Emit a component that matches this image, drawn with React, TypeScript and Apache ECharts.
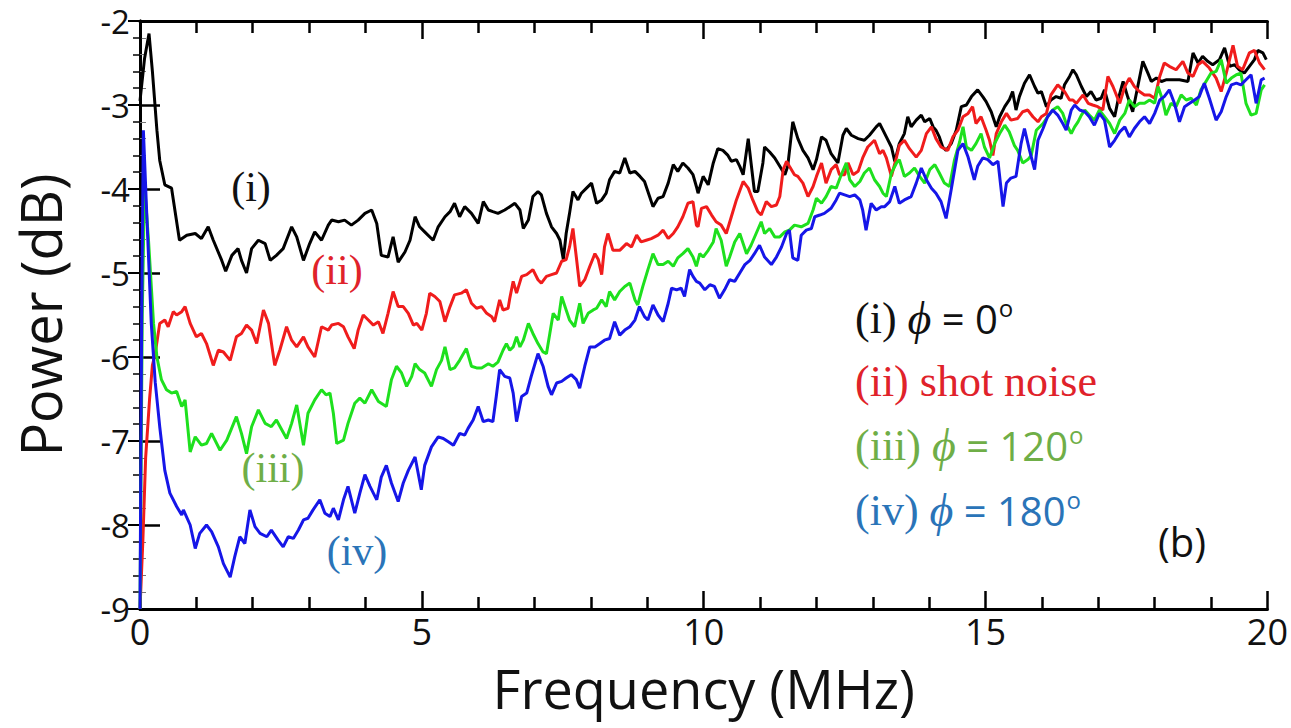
import React, { useEffect, useRef } from "react";
import * as echarts from "echarts";

// Frequency (MHz), Power (dB) pairs
const blackData: [number, number][] = [
  [0, -2.95], [0.08, -2.45], [0.16, -2.15], [0.22, -2.6], [0.3, -3.3], [0.35, -3.66], [0.44, -3.95], [0.56, -3.99],
  [0.7, -4.61], [0.83, -4.55], [0.98, -4.53], [1.09, -4.59], [1.21, -4.45], [1.3, -4.61], [1.45, -4.85], [1.52, -4.98],
  [1.63, -4.79], [1.74, -4.71], [1.8, -4.85], [1.89, -5.0], [1.98, -4.71], [2.1, -4.61], [2.22, -4.65], [2.31, -4.85],
  [2.42, -4.79], [2.54, -4.71], [2.69, -4.45], [2.78, -4.57], [2.9, -4.85], [3.01, -4.65], [3.1, -4.51], [3.22, -4.61],
  [3.34, -4.43], [3.4, -4.37], [3.52, -4.39], [3.63, -4.37], [3.75, -4.43], [3.87, -4.37], [3.99, -4.29], [4.11, -4.25],
  [4.2, -4.41], [4.28, -4.79], [4.4, -4.81], [4.49, -4.57], [4.58, -4.87], [4.7, -4.75], [4.79, -4.61], [4.88, -4.33],
  [4.96, -4.45], [5.05, -4.51], [5.2, -4.61], [5.29, -4.45], [5.41, -4.33], [5.5, -4.27], [5.58, -4.17], [5.67, -4.33],
  [5.76, -4.21], [5.88, -4.29], [6.0, -4.41], [6.09, -4.15], [6.18, -4.25], [6.26, -4.27], [6.35, -4.29], [6.47, -4.25],
  [6.56, -4.21], [6.65, -4.17], [6.74, -4.25], [6.8, -4.47], [6.89, -4.37], [6.97, -4.09], [7.06, -4.03], [7.12, -4.07],
  [7.21, -4.29], [7.3, -4.45], [7.39, -4.53], [7.45, -4.61], [7.51, -4.84], [7.56, -4.53], [7.62, -4.29], [7.68, -4.03],
  [7.77, -4.13], [7.83, -4.05], [7.92, -3.99], [8.01, -3.93], [8.1, -4.17], [8.19, -4.13], [8.27, -4.05], [8.33, -3.89],
  [8.42, -3.79], [8.51, -3.81], [8.6, -3.63], [8.69, -3.81], [8.78, -3.79], [8.87, -3.85], [8.95, -3.91], [9.04, -4.09],
  [9.1, -4.21], [9.19, -4.11], [9.28, -4.09], [9.37, -3.93], [9.46, -3.71], [9.54, -3.79], [9.63, -3.69], [9.72, -3.75],
  [9.81, -3.83], [9.87, -3.97], [9.9, -4.05], [9.99, -3.85], [10.08, -3.95], [10.17, -3.69], [10.25, -3.52], [10.34, -3.54],
  [10.43, -3.6], [10.49, -3.67], [10.58, -3.65], [10.64, -3.73], [10.7, -3.83], [10.79, -3.4], [10.84, -3.69], [10.9, -4.03],
  [10.96, -4.03], [11.05, -3.69], [11.08, -3.5], [11.17, -3.56], [11.26, -3.63], [11.35, -3.73], [11.44, -3.83], [11.49, -3.73],
  [11.58, -3.2], [11.67, -3.4], [11.76, -3.54], [11.85, -3.63], [11.94, -3.77], [12.0, -3.65], [12.09, -3.38], [12.17, -3.42],
  [12.26, -3.58], [12.38, -3.69], [12.47, -3.36], [12.53, -3.28], [12.62, -3.36], [12.74, -3.4], [12.85, -3.42], [12.94, -3.36],
  [13.06, -3.26], [13.12, -3.22], [13.18, -3.3], [13.24, -3.38], [13.33, -3.5], [13.39, -3.67], [13.47, -3.46], [13.56, -3.34],
  [13.62, -3.14], [13.68, -3.26], [13.77, -3.18], [13.86, -3.12], [13.92, -3.2], [14.01, -3.16], [14.07, -3.26], [14.12, -3.3],
  [14.18, -3.38], [14.24, -3.5], [14.3, -3.54], [14.39, -3.46], [14.48, -3.3], [14.57, -3.02], [14.66, -3.0], [14.75, -2.9],
  [14.86, -2.82], [14.95, -2.9], [15.01, -2.96], [15.1, -3.08], [15.19, -3.26], [15.25, -3.14], [15.34, -3.02], [15.42, -2.94],
  [15.48, -2.84], [15.54, -3.06], [15.6, -2.9], [15.69, -2.74], [15.78, -2.64], [15.87, -2.78], [15.93, -2.86], [15.99, -2.84],
  [16.08, -3.02], [16.16, -2.94], [16.25, -2.9], [16.34, -2.92], [16.4, -2.76], [16.49, -2.66], [16.55, -2.58], [16.61, -2.64],
  [16.7, -2.78], [16.79, -2.9], [16.87, -2.84], [16.96, -2.94], [17.05, -2.92], [17.11, -2.82], [17.2, -3.04], [17.29, -3.14],
  [17.35, -2.94], [17.44, -2.72], [17.52, -2.9], [17.61, -3.08], [17.7, -2.78], [17.79, -2.48], [17.88, -2.62], [17.94, -2.72],
  [18.03, -2.68], [18.12, -2.72], [18.2, -2.7], [18.32, -2.7], [18.44, -2.7], [18.59, -2.72], [18.68, -2.38], [18.77, -2.5],
  [18.85, -2.42], [18.94, -2.48], [19.03, -2.52], [19.15, -2.46], [19.24, -2.32], [19.33, -2.54], [19.42, -2.52], [19.5, -2.58],
  [19.59, -2.62], [19.68, -2.54], [19.77, -2.46], [19.83, -2.35], [19.92, -2.38], [19.98, -2.46],
];

const redData: [number, number][] = [
  [0, -9.0], [0.05, -8.2], [0.1, -7.2], [0.17, -6.5], [0.22, -6.1], [0.27, -5.96], [0.35, -5.6], [0.44, -5.56],
  [0.5, -5.64], [0.59, -5.46], [0.65, -5.5], [0.74, -5.46], [0.8, -5.4], [0.89, -5.6], [1.0, -5.76], [1.09, -5.72],
  [1.18, -5.84], [1.3, -6.1], [1.39, -5.92], [1.48, -5.94], [1.6, -6.04], [1.71, -5.76], [1.8, -5.72], [1.89, -5.62],
  [1.98, -5.68], [2.07, -5.84], [2.19, -5.44], [2.28, -5.6], [2.39, -6.1], [2.48, -5.92], [2.6, -5.64], [2.69, -5.8],
  [2.78, -5.88], [2.9, -5.76], [2.98, -5.88], [3.1, -6.0], [3.22, -5.64], [3.34, -5.68], [3.4, -5.62], [3.52, -5.6],
  [3.61, -5.64], [3.69, -5.76], [3.8, -5.9], [3.87, -5.68], [3.96, -5.5], [4.05, -5.56], [4.14, -5.62], [4.23, -5.58],
  [4.31, -5.72], [4.4, -5.48], [4.49, -5.22], [4.58, -5.4], [4.67, -5.4], [4.76, -5.48], [4.85, -5.62], [4.91, -5.6],
  [5.0, -5.68], [5.08, -5.48], [5.14, -5.24], [5.23, -5.28], [5.32, -5.34], [5.41, -5.58], [5.5, -5.4], [5.58, -5.26],
  [5.7, -5.24], [5.79, -5.2], [5.88, -5.36], [5.97, -5.42], [6.06, -5.4], [6.15, -5.48], [6.24, -5.52], [6.29, -5.58],
  [6.38, -5.32], [6.44, -5.44], [6.53, -5.42], [6.56, -5.3], [6.62, -5.1], [6.68, -5.24], [6.77, -5.04], [6.86, -5.02],
  [6.97, -4.96], [7.06, -5.08], [7.12, -5.12], [7.21, -5.04], [7.3, -5.02], [7.39, -5.0], [7.48, -4.86], [7.56, -4.84],
  [7.62, -4.69], [7.68, -4.47], [7.74, -4.81], [7.8, -5.16], [7.89, -5.08], [7.98, -4.92], [8.07, -4.77], [8.13, -4.84],
  [8.19, -5.02], [8.24, -4.69], [8.3, -4.53], [8.39, -4.73], [8.51, -4.73], [8.63, -4.65], [8.72, -4.69], [8.81, -4.55],
  [8.89, -4.63], [8.98, -4.61], [9.07, -4.59], [9.19, -4.55], [9.28, -4.49], [9.37, -4.59], [9.46, -4.53], [9.54, -4.45],
  [9.63, -4.33], [9.72, -4.17], [9.81, -4.15], [9.87, -4.43], [9.9, -4.45], [9.96, -4.23], [10.05, -4.21], [10.14, -4.31],
  [10.22, -4.39], [10.31, -4.43], [10.4, -4.53], [10.49, -4.33], [10.58, -4.13], [10.7, -3.91], [10.79, -3.99], [10.87, -4.13],
  [10.96, -4.27], [11.02, -4.31], [11.11, -4.15], [11.2, -4.21], [11.29, -4.19], [11.35, -4.09], [11.41, -3.77], [11.47, -3.67],
  [11.52, -3.73], [11.61, -3.83], [11.67, -3.85], [11.76, -3.93], [11.85, -4.09], [11.94, -3.97], [12.0, -3.85], [12.09, -3.69],
  [12.17, -3.93], [12.26, -3.77], [12.35, -3.71], [12.41, -3.83], [12.5, -3.83], [12.56, -3.69], [12.65, -3.83], [12.74, -3.79],
  [12.82, -3.63], [12.91, -3.5], [13.03, -3.42], [13.12, -3.58], [13.18, -3.54], [13.24, -3.63], [13.33, -3.85], [13.42, -3.62],
  [13.47, -3.48], [13.56, -3.42], [13.65, -3.52], [13.77, -3.62], [13.86, -3.54], [13.95, -3.34], [14.04, -3.26], [14.12, -3.4],
  [14.21, -3.5], [14.33, -3.54], [14.42, -3.38], [14.51, -3.3], [14.6, -3.14], [14.69, -3.1], [14.77, -3.02], [14.83, -3.22],
  [14.92, -3.14], [15.01, -3.3], [15.07, -3.42], [15.13, -3.6], [15.19, -3.34], [15.28, -3.2], [15.37, -3.1], [15.45, -3.18],
  [15.57, -3.16], [15.66, -3.08], [15.75, -3.06], [15.84, -3.14], [15.93, -3.2], [15.99, -3.14], [16.08, -3.1], [16.16, -2.88],
  [16.28, -2.76], [16.4, -2.84], [16.49, -2.94], [16.55, -2.94], [16.61, -2.98], [16.73, -2.88], [16.82, -2.98], [16.9, -3.0],
  [16.99, -3.02], [17.08, -3.06], [17.17, -2.66], [17.26, -2.78], [17.38, -2.98], [17.47, -2.78], [17.55, -2.68], [17.64, -2.78],
  [17.73, -2.84], [17.82, -2.88], [17.91, -2.88], [18.0, -2.92], [18.09, -2.66], [18.17, -2.5], [18.26, -2.54], [18.38, -2.58],
  [18.5, -2.48], [18.59, -2.62], [18.68, -2.66], [18.77, -2.52], [18.85, -2.48], [18.97, -2.56], [19.09, -2.68], [19.18, -2.84],
  [19.27, -2.62], [19.39, -2.29], [19.47, -2.54], [19.56, -2.58], [19.68, -2.38], [19.77, -2.35], [19.86, -2.5], [19.95, -2.58],
];

const greenData: [number, number][] = [
  [0, -9.0], [0.04, -5.5], [0.08, -3.95], [0.15, -4.6], [0.24, -5.6], [0.3, -6.0], [0.38, -6.27], [0.47, -6.39],
  [0.56, -6.43], [0.65, -6.41], [0.74, -6.59], [0.8, -6.51], [0.89, -7.13], [0.98, -6.95], [1.09, -7.05], [1.18, -7.03],
  [1.27, -6.91], [1.42, -7.11], [1.54, -6.99], [1.71, -6.71], [1.8, -6.91], [1.89, -7.15], [1.98, -6.83], [2.1, -6.63],
  [2.22, -6.79], [2.33, -6.83], [2.42, -6.75], [2.6, -6.97], [2.69, -6.79], [2.78, -6.57], [2.9, -7.05], [2.98, -6.67],
  [3.1, -6.51], [3.22, -6.39], [3.3, -6.45], [3.37, -6.43], [3.43, -6.67], [3.49, -7.03], [3.61, -6.99], [3.69, -6.79],
  [3.81, -6.55], [3.9, -6.49], [3.99, -6.55], [4.11, -6.39], [4.23, -6.53], [4.37, -6.59], [4.46, -6.27], [4.55, -6.11],
  [4.64, -6.19], [4.73, -6.35], [4.82, -6.23], [4.88, -6.08], [4.96, -6.15], [5.05, -6.19], [5.17, -6.35], [5.26, -6.15],
  [5.35, -6.04], [5.41, -5.88], [5.5, -6.15], [5.58, -6.13], [5.67, -6.04], [5.79, -5.9], [5.88, -6.11], [5.97, -6.13],
  [6.06, -6.13], [6.18, -6.08], [6.26, -6.11], [6.35, -6.06], [6.44, -5.92], [6.5, -5.84], [6.56, -5.92], [6.62, -5.88],
  [6.68, -5.76], [6.74, -5.88], [6.8, -5.8], [6.89, -5.6], [6.97, -5.72], [7.06, -5.84], [7.15, -5.94], [7.21, -5.96],
  [7.27, -5.72], [7.33, -5.48], [7.42, -5.56], [7.48, -5.28], [7.56, -5.44], [7.62, -5.56], [7.71, -5.64], [7.8, -5.36],
  [7.86, -5.6], [7.95, -5.48], [8.04, -5.44], [8.1, -5.42], [8.19, -5.32], [8.27, -5.4], [8.33, -5.22], [8.42, -5.32],
  [8.51, -5.22], [8.6, -5.16], [8.69, -5.12], [8.78, -5.32], [8.83, -5.38], [8.92, -5.16], [9.01, -4.96], [9.1, -4.77],
  [9.19, -4.9], [9.28, -4.9], [9.37, -4.86], [9.46, -4.92], [9.54, -4.82], [9.63, -4.77], [9.72, -4.71], [9.81, -4.81],
  [9.87, -4.92], [9.93, -4.77], [9.99, -4.81], [10.08, -4.73], [10.17, -4.63], [10.22, -4.47], [10.31, -4.61], [10.4, -4.92],
  [10.46, -4.81], [10.55, -4.63], [10.64, -4.53], [10.76, -4.77], [10.84, -4.67], [10.93, -4.53], [11.02, -4.39], [11.08, -4.53],
  [11.17, -4.47], [11.26, -4.57], [11.35, -4.57], [11.44, -4.51], [11.52, -4.49], [11.61, -4.43], [11.73, -4.45], [11.85, -4.41],
  [11.94, -4.25], [12.0, -4.11], [12.09, -4.17], [12.17, -4.09], [12.26, -3.97], [12.35, -3.99], [12.44, -3.83], [12.53, -3.69],
  [12.59, -3.89], [12.68, -3.97], [12.77, -3.91], [12.85, -3.81], [12.94, -3.75], [13.03, -3.89], [13.12, -3.97], [13.18, -4.05],
  [13.24, -4.09], [13.33, -3.81], [13.42, -3.69], [13.47, -3.65], [13.56, -3.85], [13.65, -3.81], [13.74, -3.75], [13.83, -3.85],
  [13.92, -3.93], [14.01, -3.77], [14.1, -3.71], [14.18, -3.81], [14.27, -3.93], [14.36, -3.97], [14.45, -3.65], [14.54, -3.44],
  [14.6, -3.26], [14.66, -3.5], [14.75, -3.54], [14.83, -3.46], [14.92, -3.34], [14.98, -3.5], [15.07, -3.63], [15.16, -3.46],
  [15.25, -3.34], [15.34, -3.24], [15.42, -3.32], [15.51, -3.48], [15.57, -3.54], [15.66, -3.69], [15.75, -3.65], [15.81, -3.6],
  [15.9, -3.3], [16.02, -3.22], [16.1, -3.14], [16.19, -3.06], [16.28, -3.02], [16.37, -3.1], [16.43, -3.22], [16.52, -3.34],
  [16.58, -3.26], [16.64, -3.2], [16.7, -3.12], [16.76, -3.06], [16.84, -3.12], [16.93, -3.18], [17.02, -3.06], [17.11, -3.14],
  [17.2, -3.22], [17.29, -3.34], [17.38, -3.18], [17.47, -3.1], [17.55, -2.94], [17.64, -3.02], [17.73, -2.98], [17.82, -2.98],
  [17.91, -2.94], [18.0, -2.98], [18.06, -2.78], [18.14, -2.94], [18.2, -3.12], [18.29, -2.98], [18.38, -3.02], [18.47, -2.88],
  [18.56, -2.94], [18.65, -2.92], [18.74, -3.0], [18.82, -2.82], [18.91, -2.72], [19.0, -2.62], [19.09, -2.6], [19.18, -2.46],
  [19.27, -2.74], [19.36, -2.68], [19.45, -2.64], [19.53, -2.62], [19.62, -2.98], [19.71, -3.12], [19.8, -3.1], [19.89, -2.82],
  [19.95, -2.76],
];

const blueData: [number, number][] = [
  [0, -9.0], [0.03, -5.5], [0.06, -3.3], [0.12, -4.3], [0.2, -5.6], [0.27, -6.3], [0.35, -6.83], [0.44, -7.35],
  [0.53, -7.62], [0.65, -7.78], [0.74, -7.88], [0.77, -7.82], [0.89, -8.0], [0.98, -8.28], [1.06, -8.1], [1.18, -8.0],
  [1.27, -8.08], [1.39, -8.26], [1.48, -8.46], [1.6, -8.62], [1.68, -8.38], [1.77, -8.14], [1.86, -8.22], [1.95, -7.82],
  [2.04, -8.02], [2.13, -8.1], [2.25, -8.14], [2.33, -8.06], [2.45, -8.18], [2.54, -8.26], [2.63, -8.14], [2.72, -8.16],
  [2.81, -8.06], [2.9, -7.94], [2.98, -7.92], [3.07, -7.82], [3.19, -7.7], [3.28, -7.86], [3.37, -7.9], [3.43, -7.8],
  [3.52, -7.94], [3.61, -7.7], [3.69, -7.54], [3.81, -7.86], [3.9, -7.62], [3.99, -7.4], [4.08, -7.54], [4.2, -7.7],
  [4.28, -7.43], [4.37, -7.29], [4.46, -7.5], [4.58, -7.72], [4.67, -7.5], [4.76, -7.35], [4.88, -7.19], [4.99, -7.58],
  [5.05, -7.29], [5.17, -7.07], [5.29, -6.95], [5.38, -6.97], [5.47, -7.01], [5.56, -7.05], [5.67, -6.91], [5.76, -6.93],
  [5.82, -6.85], [5.91, -6.75], [6.0, -6.59], [6.09, -6.77], [6.18, -6.75], [6.26, -6.77], [6.32, -6.47], [6.38, -6.15],
  [6.47, -6.23], [6.56, -6.25], [6.62, -6.43], [6.68, -6.77], [6.77, -6.47], [6.86, -6.43], [6.94, -6.23], [7.06, -5.96],
  [7.15, -6.11], [7.24, -6.35], [7.3, -6.45], [7.39, -6.31], [7.48, -6.29], [7.56, -6.25], [7.65, -6.21], [7.74, -6.27],
  [7.8, -6.37], [7.89, -6.11], [7.98, -5.88], [8.07, -5.88], [8.16, -5.84], [8.24, -5.8], [8.33, -5.78], [8.42, -5.58],
  [8.51, -5.74], [8.6, -5.68], [8.69, -5.64], [8.78, -5.56], [8.86, -5.4], [8.95, -5.52], [9.01, -5.56], [9.1, -5.38],
  [9.19, -5.5], [9.28, -5.58], [9.37, -5.36], [9.43, -5.18], [9.52, -5.2], [9.6, -5.18], [9.66, -5.28], [9.75, -4.96],
  [9.81, -5.04], [9.87, -5.1], [9.93, -5.12], [10.02, -5.2], [10.11, -5.14], [10.19, -5.16], [10.28, -5.3], [10.37, -5.2],
  [10.46, -5.08], [10.55, -5.1], [10.64, -5.0], [10.73, -4.9], [10.82, -4.85], [10.9, -4.77], [10.99, -4.67], [11.08, -4.81],
  [11.2, -4.9], [11.29, -4.81], [11.38, -4.69], [11.47, -4.53], [11.52, -4.49], [11.58, -4.82], [11.67, -4.85], [11.73, -4.55],
  [11.82, -4.49], [11.91, -4.47], [11.97, -4.33], [12.06, -4.31], [12.14, -4.29], [12.26, -4.23], [12.35, -4.13], [12.41, -4.05],
  [12.5, -4.07], [12.59, -4.09], [12.68, -4.07], [12.77, -4.13], [12.82, -4.25], [12.88, -4.49], [12.97, -4.17], [13.06, -4.25],
  [13.15, -4.21], [13.21, -4.21], [13.3, -4.15], [13.39, -3.97], [13.47, -4.17], [13.56, -4.13], [13.68, -4.09], [13.77, -3.93],
  [13.86, -3.75], [13.95, -3.89], [14.04, -3.99], [14.12, -4.05], [14.21, -4.15], [14.3, -4.35], [14.39, -4.01], [14.51, -3.54],
  [14.6, -3.46], [14.69, -3.62], [14.8, -3.89], [14.86, -3.73], [14.95, -3.63], [15.04, -3.65], [15.13, -3.71], [15.22, -3.67],
  [15.31, -4.21], [15.37, -3.93], [15.45, -3.87], [15.54, -3.85], [15.63, -3.46], [15.69, -3.28], [15.78, -3.54], [15.87, -3.77],
  [15.93, -3.42], [16.02, -3.28], [16.1, -3.14], [16.19, -3.06], [16.28, -3.12], [16.37, -3.22], [16.43, -3.3], [16.52, -3.06],
  [16.58, -3.0], [16.67, -3.06], [16.76, -3.08], [16.84, -3.14], [16.93, -3.24], [17.02, -3.1], [17.11, -3.18], [17.2, -3.5],
  [17.29, -3.42], [17.38, -3.32], [17.47, -3.26], [17.55, -3.38], [17.64, -3.28], [17.73, -3.2], [17.82, -3.14], [17.91, -3.22],
  [18.0, -3.1], [18.09, -2.94], [18.17, -2.9], [18.26, -2.82], [18.35, -2.98], [18.44, -3.2], [18.53, -3.02], [18.62, -2.98],
  [18.71, -2.94], [18.79, -2.9], [18.88, -2.74], [18.97, -2.92], [19.09, -3.18], [19.18, -3.08], [19.27, -2.9], [19.36, -2.76],
  [19.45, -2.74], [19.53, -2.76], [19.62, -2.7], [19.71, -2.64], [19.8, -2.98], [19.89, -2.7], [19.95, -2.68],
];

const xTickLabels = ["0", "5", "10", "15", "20"];
const yTickLabels = ["-9", "-8", "-7", "-6", "-5", "-4", "-3", "-2"];

const SANS = "'Open Sans', 'Noto Sans', sans-serif";
const SERIF = "'Liberation Serif', 'DejaVu Serif', serif";

const legendRows = [
  { y: 318, color: "#111111", parts: [["s", "(i) "], ["p", "ϕ"], ["a", " = 0"], ["o", "o"]] },
  { y: 381, color: "#e0222a", parts: [["s", "(ii) shot noise"]] },
  { y: 445, color: "#6fae47", parts: [["s", "(iii) "], ["p", "ϕ"], ["a", " = 120"], ["o", "o"]] },
  { y: 510, color: "#2a74b8", parts: [["s", "(iv) "], ["p", "ϕ"], ["a", " = 180"], ["o", "o"]] },
];

const curveLabels = [
  { text: "(i)", x: 251, y: 187, color: "#111111" },
  { text: "(ii)", x: 337, y: 270, color: "#e0222a" },
  { text: "(iii)", x: 273, y: 468, color: "#6fae47" },
  { text: "(iv)", x: 357, y: 551, color: "#2a74b8" },
];

export default function App() {
  const ref = useRef<HTMLDivElement>(null);
  useEffect(() => {
    if (!ref.current) return;
    const chart = echarts.init(ref.current, undefined, { renderer: "svg" });

    const axisLine = { show: true, lineStyle: { color: "#000", width: 3 } };
    const xCommon = {
      type: "value",
      min: 0,
      max: 20,
      interval: 5,
      axisLine,
      axisTick: { show: true, inside: true, length: 18, lineStyle: { color: "#000", width: 2.5 } },
      minorTick: { show: true, splitNumber: 5, length: 12, lineStyle: { color: "#000", width: 2.5 } },
      splitLine: { show: false },
      minorSplitLine: { show: false },
    };
    const yCommon = {
      type: "value",
      min: -9,
      max: -2,
      interval: 1,
      axisLine,
      splitLine: { show: false },
      minorSplitLine: { show: false },
    };

    const graphics: any[] = [];
    legendRows.forEach((r) => {
      const text = r.parts.map(([k, t]) => `{${k}|${t}}`).join("");
      graphics.push({
        type: "text",
        x: 855,
        y: r.y,
        style: {
          text,
          fill: r.color,
          verticalAlign: "middle",
          rich: {
            s: { fontFamily: SERIF, fontSize: 44, fill: r.color, color: r.color },
            p: { fontFamily: SERIF, fontStyle: "italic", fontSize: 46, fill: r.color, color: r.color },
            a: { fontFamily: SANS, fontSize: 40, fill: r.color, color: r.color },
            o: { fontFamily: SANS, fontSize: 24, fill: r.color, color: r.color, verticalAlign: "top", padding: [0, 0, 20, 1] },
          },
        },
      });
    });
    curveLabels.forEach((c) => {
      graphics.push({
        type: "text",
        x: c.x,
        y: c.y,
        style: {
          text: c.text,
          fill: c.color,
          font: `42px ${SERIF}`,
          align: "center",
          verticalAlign: "middle",
        },
      });
    });
    graphics.push({
      type: "text",
      x: 1182,
      y: 541,
      style: { text: "(b)", fill: "#111", font: `40px ${SANS}`, align: "center", verticalAlign: "middle" },
    });

    chart.setOption({
      animation: false,
      backgroundColor: "#fff",
      grid: { left: 140, right: 23, top: 21, bottom: 119, containLabel: false },
      xAxis: [
        {
          ...xCommon,
          position: "bottom",
          name: "Frequency (MHz)",
          nameLocation: "middle",
          nameGap: 52,
          nameTextStyle: { fontFamily: SANS, fontSize: 54, color: "#111" },
          axisLabel: {
            show: true,
            margin: 4,
            fontFamily: SANS,
            fontSize: 36,
            color: "#111",
            formatter: (v: number) => xTickLabels[Math.round(v / 5)] ?? "",
          },
        },
        { ...xCommon, position: "top", axisLabel: { show: false } },
      ],
      yAxis: [
        {
          ...yCommon,
          position: "left",
          name: "Power (dB)",
          nameLocation: "middle",
          nameRotate: 90,
          nameGap: 72,
          nameTextStyle: { fontFamily: SANS, fontSize: 56, color: "#111" },
          axisTick: { show: true, inside: true, length: 20, lineStyle: { color: "#000", width: 2.5 } },
          minorTick: { show: true, splitNumber: 5, length: 6, lineStyle: { color: "#777", width: 1 } },
          axisLabel: {
            show: true,
            margin: 10,
            fontFamily: SANS,
            fontSize: 33,
            lineHeight: 30,
            padding: [5, 0, 0, 0],
            color: "#111",
            formatter: (v: number) => yTickLabels[Math.round(v + 9)] ?? "",
          },
        },
        {
          ...yCommon,
          position: "right",
          axisTick: { show: true, inside: true, length: 12, lineStyle: { color: "#000", width: 2 } },
          minorTick: { show: true, splitNumber: 5, length: 7, lineStyle: { color: "#000", width: 1.5 } },
          axisLabel: { show: false },
        },
      ],
      series: [
        { name: "(i)", data: blackData, color: "#000000" },
        { name: "(ii)", data: redData, color: "#f01c1c" },
        { name: "(iii)", data: greenData, color: "#1ee01e" },
        { name: "(iv)", data: blueData, color: "#1616e8" },
      ].map((s) => ({
        type: "line",
        name: s.name,
        data: s.data,
        xAxisIndex: 0,
        yAxisIndex: 0,
        showSymbol: false,
        symbol: "none",
        lineStyle: { color: s.color, width: 3 },
        itemStyle: { color: s.color },
        z: 3,
      })),
      graphic: graphics,
    });

    return () => chart.dispose();
  }, []);

  return (
    <div
      ref={ref}
      style={{ position: "fixed", left: 0, top: 0, width: 1291, height: 728, background: "#fff" }}
    />
  );
}
